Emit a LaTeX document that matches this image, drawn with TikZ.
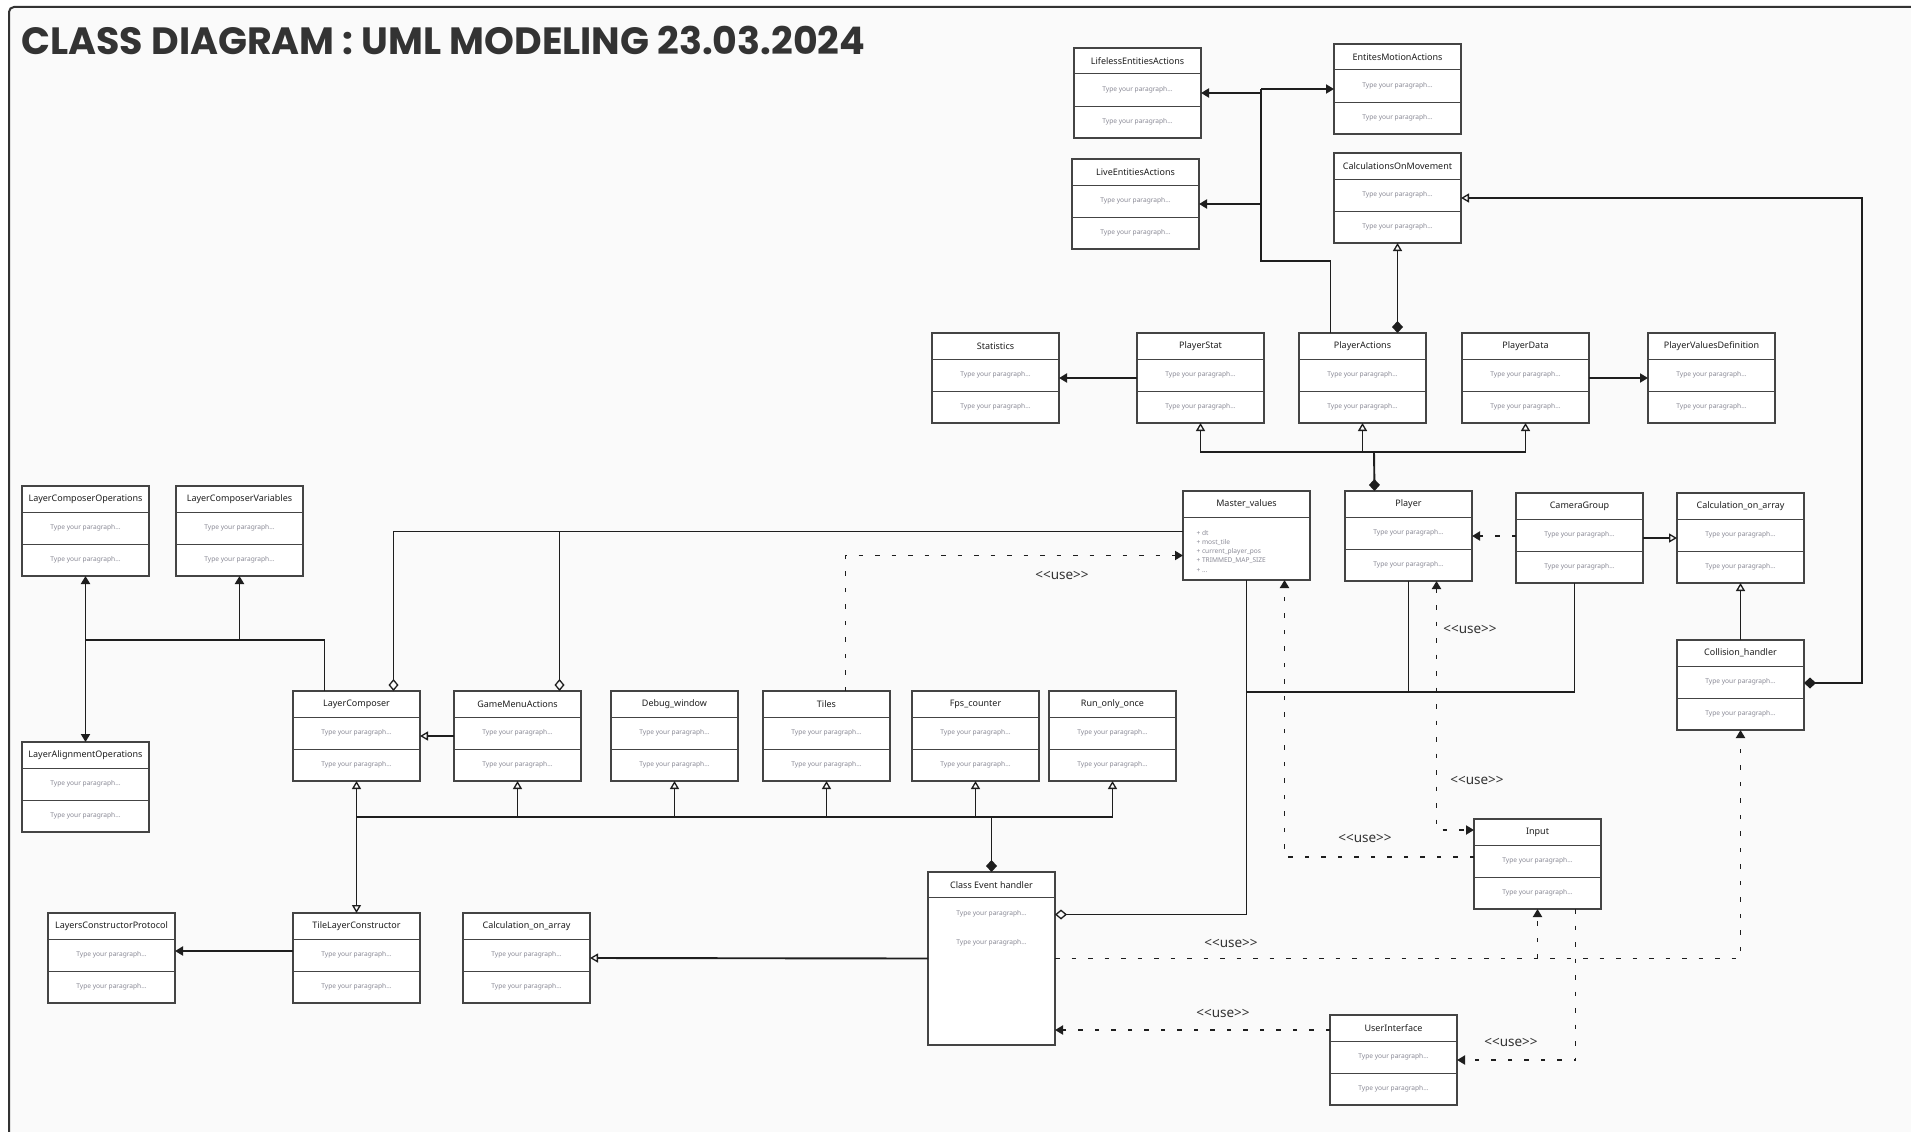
\documentclass[tikz,border=0pt]{standalone}
\usepackage{fontspec}
\setmainfont{Noto Sans}
\newfontfamily\titlefont{Poppins}
\usetikzlibrary{calc,arrows.meta,positioning}

\definecolor{paper}{HTML}{FAFAFA}
\definecolor{boxline}{HTML}{444444}
\definecolor{ink}{HTML}{1E1E1E}
\definecolor{hintgray}{HTML}{8A8A96}
\definecolor{titleink}{HTML}{333333}

\newcommand{\usetag}{<\kern0pt<use>\kern0pt>}

\begin{document}
\begin{tikzpicture}[x=1pt,y=-1pt,
    cls/.style={draw=boxline,line width=1.4pt,fill=white,minimum width=127,minimum height=90,
        anchor=north west,inner sep=0pt,outer sep=0pt},
    ttl/.style={font=\fontsize{9}{10}\selectfont,text=ink},
    hint/.style={font=\fontsize{6.6}{7}\selectfont,text=hintgray},
    sep/.style={draw=boxline,line width=1pt},
    ln/.style={draw=ink,line width=1.9pt},
    assoc/.style={ln,-{Triangle[length=8pt,width=9pt]}},
    gen/.style={ln,-{Triangle[open,length=8pt,width=9pt,line width=1.3pt]}},
    dep/.style={ln,dash pattern=on 4.5pt off 12pt,-{Triangle[length=8pt,width=9pt]}},
    aggr/.style={ln,-{Diamond[open,length=12pt,width=10pt,line width=1.3pt]}},
    comp/.style={ln,-{Diamond[length=12pt,width=11pt]}},
    use/.style={font=\fontsize{13.5}{14}\selectfont,text=titleink}]

\useasboundingbox (0,0) rectangle (1911,1132);
\fill[white] (0,0) rectangle (1911,1132);
\draw[draw=titleink,line width=2pt,fill=paper,rounded corners=5pt] (9,7) rectangle (1960,1180);

\node[anchor=base west,text=titleink,font=\titlefont\bfseries\fontsize{38}{44}\selectfont]
    (nTitle) at (18,55) {CLASS DIAGRAM : UML MODELING 23.03.2024};

% class boxes
\foreach \n/\px/\py/\t in
{nLifeless/1074/48/LifelessEntitiesActions,
    nMotion/1334/44/EntitesMotionActions,
    nLive/1072/159/LiveEntitiesActions,
    nCalcMove/1334/153/CalculationsOnMovement,
    nStats/932/333/Statistics,
    nPlayerStat/1137/333/PlayerStat,
    nPlayerActions/1299/333/PlayerActions,
    nPlayerData/1462/333/PlayerData,
    nPlayerValues/1648/333/PlayerValuesDefinition,
    nPlayer/1345/491/Player,
    nCamera/1516/493/CameraGroup,
    nCalcArrR/1677/493/Calculation\_on\_array,
    nCollision/1677/640/Collision\_handler,
    nLCOps/22/486/LayerComposerOperations,
    nLCVars/176/486/LayerComposerVariables,
    nLAOps/22/742/LayerAlignmentOperations,
    nLComp/293/691/LayerComposer,
    nGameMenu/454/691/GameMenuActions,
    nDebug/611/691/Debug\_window,
    nTiles/763/691/Tiles,
    nFps/912/691/Fps\_counter,
    nRunOnce/1049/691/Run\_only\_once,
    nTileLC/293/913/TileLayerConstructor,
    nLCProto/48/913/LayersConstructorProtocol,
    nCalcArrL/463/913/Calculation\_on\_array,
    nInput/1474/819/Input,
    nUI/1330/1015/UserInterface
}
{
    \node[cls] (\n) at (\px,\py) {};
    \node[ttl] at ($(\n.north)+(0,13)$) {\t};
    \draw[sep] ($(\n.north west)+(0,26)$) -- ($(\n.north east)+(0,26)$);
    \draw[sep] ($(\n.north west)+(0,58)$) -- ($(\n.north east)+(0,58)$);
    \node[hint] at ($(\n.north)+(0,42)$) {Type your paragraph...};
    \node[hint] at ($(\n.north)+(0,74)$) {Type your paragraph...};
};

\node[cls,minimum height=89] (nMaster) at (1183,491) {};
\node[ttl] at ($(nMaster.north)+(0,13)$) {Master\_values};
\draw[sep] ($(nMaster.north west)+(0,26)$) -- ($(nMaster.north east)+(0,26)$);
\foreach \k/\s in {0/dt,1/most\_tile,2/current\_player\_pos,3/TRIMMED\_MAP\_SIZE,4/{...}}
{
    \node[hint,anchor=west] at ($(nMaster.north west)+(10,42+9.3*\k)$) {+ \s};
};

\node[cls,minimum height=173] (nEvents) at (928,872) {};
\node[ttl] at ($(nEvents.north)+(0,13)$) {Class Event handler};
\draw[sep] ($(nEvents.north west)+(0,25)$) -- ($(nEvents.north east)+(0,25)$);
\node[hint] at ($(nEvents.north)+(0,42)$) {Type your paragraph...};
\node[hint] at ($(nEvents.north)+(0,71)$) {Type your paragraph...};

% upper cluster
\coordinate (cUpBusPt) at (1261,261);
\draw[ln] ([xshift=-32]nPlayerActions.north) |- (cUpBusPt) -- (cUpBusPt |- nMotion.west);
\draw[assoc] (cUpBusPt |- nMotion.west) -- (nMotion.west);
\draw[assoc] (cUpBusPt |- nLifeless.east) -- (nLifeless.east);
\draw[assoc] (cUpBusPt |- nLive.east) -- (nLive.east);
\draw[ln,{Triangle[open,length=8pt,width=9pt,line width=1.3pt]}-{Diamond[length=12pt,width=11pt]}]
    (nCalcMove.south) -- (nCalcMove.south |- nPlayerActions.north);

\coordinate (cRailPt) at (1862,198);
\draw[ln,{Diamond[length=12pt,width=11pt]}-{Triangle[open,length=8pt,width=9pt,line width=1.3pt]}]
    ([yshift=2]nCollision.east) -| (cRailPt) -- (nCalcMove.east);

\draw[assoc] (nPlayerStat.west) -- (nStats.east);
\draw[assoc] (nPlayerData.east) -- (nPlayerValues.west);

\coordinate (cPlayerBusPt) at (1374,452);
\draw[ln,{Diamond[length=12pt,width=11pt]}-] ([xshift=-34]nPlayer.north) -- (cPlayerBusPt);
\draw[gen] (cPlayerBusPt) -| (nPlayerStat.south);
\draw[gen] (cPlayerBusPt) -| (nPlayerData.south);
\draw[gen] (nPlayerActions.south |- cPlayerBusPt) -- (nPlayerActions.south);

\draw[dep] (nCamera.west |- nPlayer.east) -- (nPlayer.east);
\draw[gen] (nCamera.east) -- (nCalcArrR.west);
\draw[gen] (nCollision.north) -- (nCalcArrR.south);

% master, player, camera -> event handler
\coordinate (cMidBusPt) at (1246,692);
\coordinate (cEvAggPt) at ([yshift=44]nEvents.east);
\draw[ln] ([xshift=-5]nCamera.south) |- (cMidBusPt);
\draw[ln] (nPlayer.south) -- (nPlayer.south |- cMidBusPt);
\draw[aggr] (nMaster.south) |- (cEvAggPt);

% master -> layer composer, game menu
\coordinate (cMasterTopPt) at ([yshift=4]nMaster.west);
\coordinate (cLCompTopPt) at ([xshift=37]nLComp.north);
\coordinate (cGameMenuTopPt) at ([xshift=42]nGameMenu.north);
\draw[aggr] (cMasterTopPt) -| (cLCompTopPt);
\draw[aggr] (cGameMenuTopPt |- cMasterTopPt) -- (cGameMenuTopPt);

\coordinate (cTilesTopPt) at ([xshift=19]nTiles.north);
\draw[dep] (cTilesTopPt) |- ([yshift=-20]nMaster.west);
\node[use] (lUseTiles) at (1062,575) {\usetag};

% left cluster
\coordinate (cLeftBusPt) at (85.5,640);
\draw[ln] ([xshift=-32]nLComp.north) |- (cLeftBusPt);
\draw[assoc] (cLeftBusPt) -- (nLCOps.south);
\draw[assoc] (cLeftBusPt) -- (nLAOps.north);
\draw[assoc] (nLCVars.south |- cLeftBusPt) -- (nLCVars.south);
\draw[gen] (nGameMenu.west) -- (nLComp.east);

% lower bus
\coordinate (cLowBusPt) at (356.5,817);
\draw[ln] (cLowBusPt) -- (cLowBusPt -| nRunOnce.south);
\foreach \b in {nLComp,nGameMenu,nDebug,nTiles,nFps,nRunOnce}
{
    \draw[gen] (\b.south |- cLowBusPt) -- (\b.south);
};
\draw[gen] (cLowBusPt) -- (nTileLC.north);
\draw[comp] (cLowBusPt -| nEvents.north) -- (nEvents.north);

\draw[assoc] ([yshift=7]nTileLC.west) -- ([yshift=7]nLCProto.east);
\draw[gen] (nEvents.west) -- (nCalcArrL.east);

% use dependencies
\draw[dep] (nEvents.east) -| (nCollision.south);
\draw[dep] (nInput.south |- nEvents.east) -- (nInput.south);
\node[use] (lUseColl) at (1231,943) {\usetag};

\draw[dep] ([yshift=7]nInput.west) -| ([xshift=38]nMaster.south);
\node[use] (lUseMaster) at (1365,838) {\usetag};

\coordinate (cPlayerUsePt) at ([xshift=28]nPlayer.south);
\draw[ln,dash pattern=on 4.5pt off 12pt,{Triangle[length=8pt,width=9pt]}-{Triangle[length=8pt,width=9pt]}]
    (cPlayerUsePt) |- ([yshift=34]nInput.west);
\node[use] (lUsePlayerA) at (1470,629) {\usetag};
\node[use] (lUsePlayerB) at (1477,780) {\usetag};

\coordinate (cInputLowPt) at ([xshift=38]nInput.south);
\draw[dep] (cInputLowPt) |- (nUI.east);
\node[use] (lUseUI) at (1511,1042) {\usetag};

\coordinate (cUIPt) at ([yshift=30]nUI.west);
\draw[dep] (cUIPt) -- (cUIPt -| nEvents.east);
\node[use] (lUseEvents) at (1223,1013) {\usetag};

\end{tikzpicture}
\end{document}
